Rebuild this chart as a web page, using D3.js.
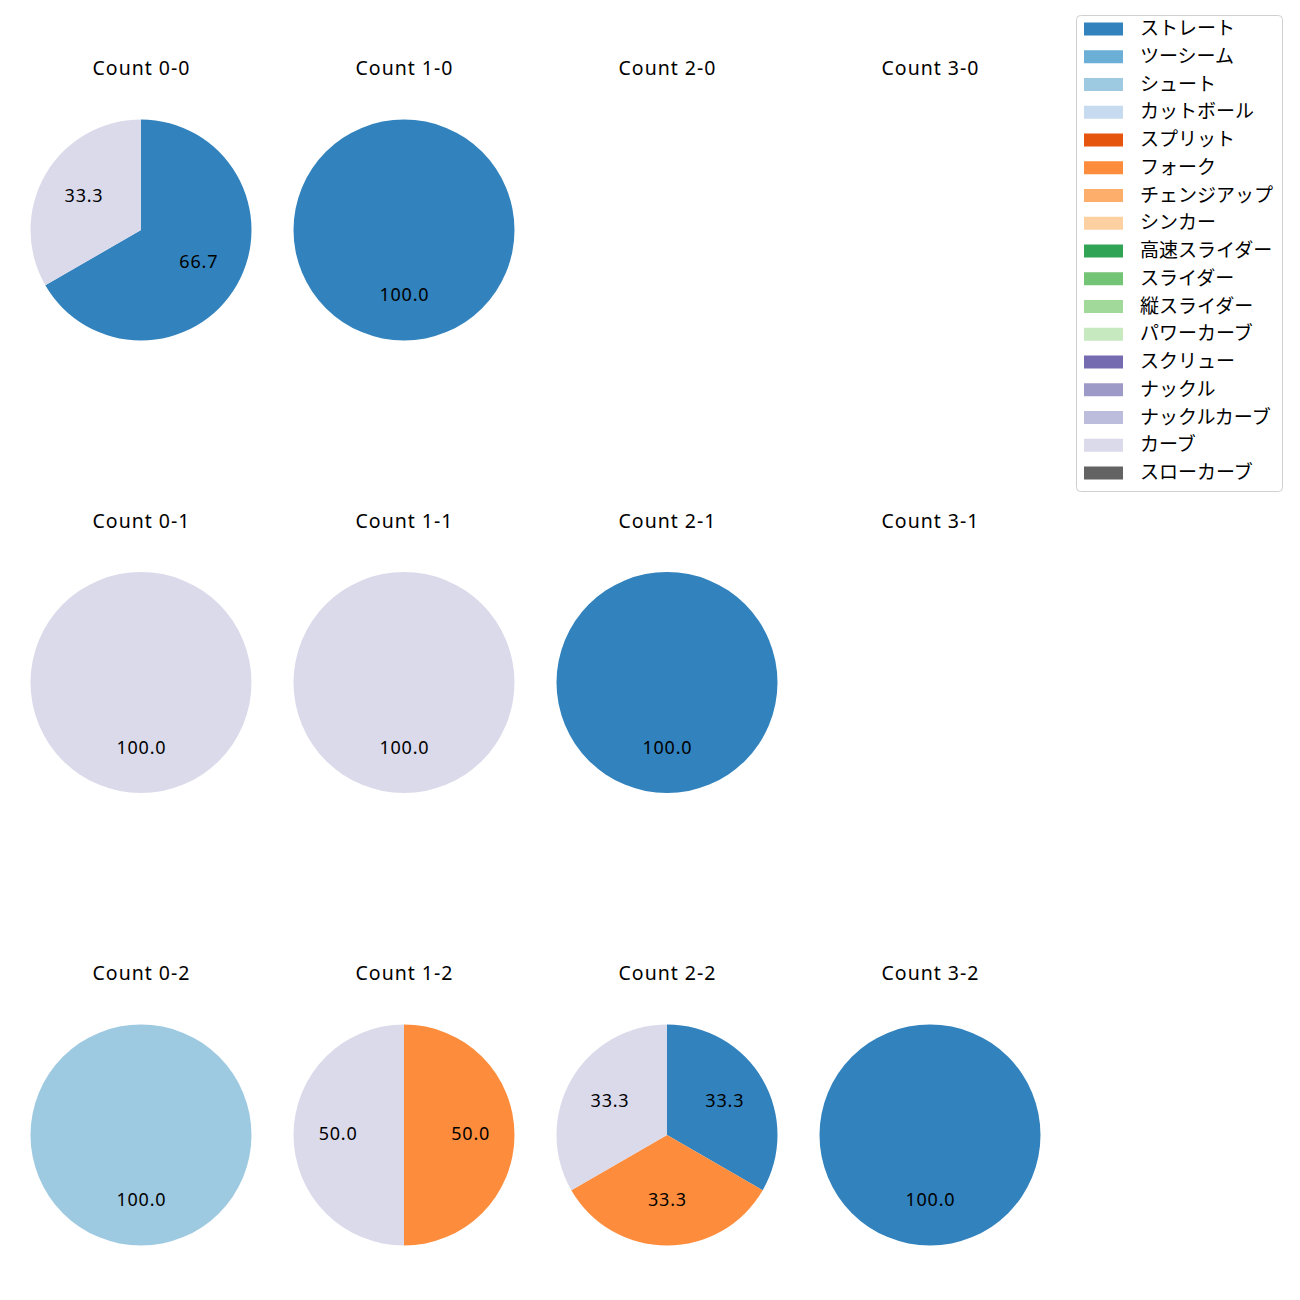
<!DOCTYPE html>
<html><head><meta charset="utf-8">
<script src="https://cdn.jsdelivr.net/npm/d3@7"></script>
<style>
body{margin:0;background:#fff;}
text{font-family:"Noto Sans","Noto Sans CJK JP",sans-serif;}
text.jp{font-family:"Noto Sans CJK JP","Noto Sans",sans-serif;}
</style></head><body>
<svg id="chart" width="1300" height="1300"></svg>
<script>
const pitchTypes = ["ストレート","ツーシーム","シュート","カットボール","スプリット","フォーク","チェンジアップ","シンカー","高速スライダー","スライダー","縦スライダー","パワーカーブ","スクリュー","ナックル","ナックルカーブ","カーブ","スローカーブ"];
const pitchColors = ["#3182bd","#6baed6","#9ecae1","#c6dbef","#e6550d","#fd8d3c","#fdae6b","#fdd0a2","#31a354","#74c476","#a1d99b","#c7e9c0","#756bb1","#9e9ac8","#bcbddc","#dadaeb","#636363"];
const countTitles = ["Count 0-0","Count 1-0","Count 2-0","Count 3-0","Count 0-1","Count 1-1","Count 2-1","Count 3-1","Count 0-2","Count 1-2","Count 2-2","Count 3-2"];
// pitch counts per panel: [name, count]
const panel00 = [["ストレート",2],["カーブ",1]];
const panel10 = [["ストレート",1]];
const panel20 = [];
const panel30 = [];
const panel01 = [["カーブ",1]];
const panel11 = [["カーブ",1]];
const panel21 = [["ストレート",1]];
const panel31 = [];
const panel02 = [["シュート",1]];
const panel12 = [["フォーク",1],["カーブ",1]];
const panel22 = [["ストレート",1],["フォーク",1],["カーブ",1]];
const panel32 = [["ストレート",1]];
const panels = [panel00,panel10,panel20,panel30,panel01,panel11,panel21,panel31,panel02,panel12,panel22,panel32];

const svg = d3.select("#chart");
const color = d3.scaleOrdinal().domain(pitchTypes).range(pitchColors);
const colX = d3.scaleLinear().domain([0,3]).range([141,930]);
const rowY = d3.scaleLinear().domain([0,2]).range([230,1135]);
const R = 110.5;

const pie = d3.pie().value(d=>d[1]).sort(null).startAngle(0).endAngle(2*Math.PI);
const arc = d3.arc().innerRadius(0).outerRadius(R);
const labelArc = d3.arc().innerRadius(R*0.6).outerRadius(R*0.6);

panels.forEach((p,i)=>{
  const cx = colX(i%4), cy = rowY(Math.floor(i/4));
  svg.append("text").attr("x",cx+0.5).attr("y",cy-160).attr("text-anchor","middle")
    .attr("dominant-baseline","middle").style("font-size","19.5px").style("letter-spacing","1px")
    .attr("fill","#000").text(countTitles[i]);
  if(!p.length) return;
  const g = svg.append("g").attr("transform",`translate(${cx},${cy})`);
  const total = d3.sum(p,d=>d[1]);
  const arcs = pie(p);
  g.selectAll("path").data(arcs).join("path").attr("d",arc).attr("fill",d=>color(d.data[0]));
  g.selectAll("text").data(arcs).join("text")
    .attr("transform",d=>{const c=labelArc.centroid(d);return `translate(${c[0]+0.4},${c[1]})`;})
    .attr("text-anchor","middle").attr("dominant-baseline","middle")
    .style("font-size","18px").style("letter-spacing","0.8px").attr("fill","#000")
    .text(d=>(d.data[1]/total*100).toFixed(1));
});

// legend
const lg = svg.append("g");
lg.append("rect").attr("x",1076.5).attr("y",15.5).attr("width",206).attr("height",476).attr("rx",4)
  .attr("fill","#fff").attr("stroke","#d0d0d0");
const ly = d3.scaleLinear().domain([0,pitchTypes.length-1]).range([29,473]);
pitchTypes.forEach((t,i)=>{
  lg.append("rect").attr("x",1084).attr("y",ly(i)-6.5).attr("width",39).attr("height",13).attr("fill",color(t));
  lg.append("text").attr("class","jp").attr("x",1140).attr("y",ly(i)+1).attr("dominant-baseline","middle")
    .style("font-size","19px").attr("fill","#000").text(t);
});
</script>
</body></html>
